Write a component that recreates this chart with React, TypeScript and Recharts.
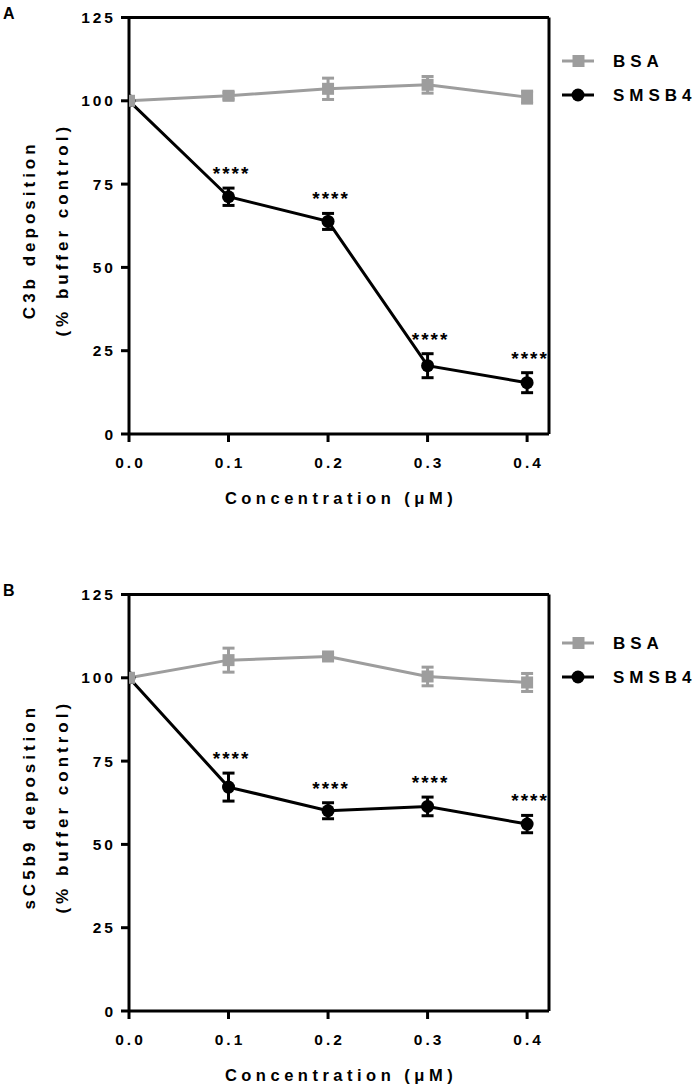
import React from 'react';
import { LineChart, Line, XAxis, YAxis, ErrorBar, ReferenceLine, ReferenceDot, Legend } from 'recharts';

// concentrations (µM) and axis ticks
const conc = [0, 0.1, 0.2, 0.3, 0.4];
const xTicks = [0, 0.1, 0.2, 0.3, 0.4];
const yTicks = [0, 25, 50, 75, 100, 125];

// panel A: C3b deposition
const bsaA = [100, 101.5, 103.6, 104.8, 101.1];
const bsaErrA = [0, 1, 3.2, 2.5, 1.8];
const smsA = [100, 71.2, 63.8, 20.5, 15.4];
const smsErrA = [0, 2.6, 2.4, 3.6, 3];

// panel B: sC5b9 deposition
const bsaB = [100, 105.3, 106.4, 100.4, 98.6];
const bsaErrB = [0, 3.6, 0.8, 2.8, 2.7];
const smsB = [100, 67.2, 60.1, 61.4, 56.1];
const smsErrB = [0, 4.2, 2.4, 2.8, 2.6];

const stars = ['', '****', '****', '****', '****'];
const seriesNames = ['BSA', 'SMSB4'];

const FONT = '"Liberation Sans", Arial, Helvetica, sans-serif';
const GRAY = '#9d9d9d';
const X_MAX = 0.422;

const XTick = (props: any) => {
  const { x, y, payload } = props;
  return (
    <text x={x + 1.5} y={y} dy="0.71em" textAnchor="middle" fontFamily={FONT} fontWeight="bold"
      fontSize={15.5} fill="#000" style={{ letterSpacing: '3px' }}>
      {Number(payload.value).toFixed(1)}
    </text>
  );
};

const YTick = (props: any) => {
  const { x, y, payload } = props;
  return (
    <text x={x} y={y} dy="0.36em" textAnchor="end" fontFamily={FONT} fontWeight="bold"
      fontSize={15.5} fill="#000" style={{ letterSpacing: '3px' }}>
      {payload.value}
    </text>
  );
};

const squareDot = (props: any) => {
  const { cx, cy, index } = props;
  return <rect key={`sq${index}`} x={cx - 6} y={cy - 6} width={12} height={12} fill={GRAY} />;
};

const circleDot = (props: any) => {
  const { cx, cy, index } = props;
  return <circle key={`ci${index}`} cx={cx} cy={cy} r={6.5} fill="#000" />;
};

const LegendBox = () => (
  <svg width={145} height={70}>
    {seriesNames.map((n, i) => (
      <g key={n} transform={`translate(0, ${15 + i * 34})`}>
        <line x1={7} x2={39} y1={0} y2={0} stroke={i === 0 ? GRAY : '#000'} strokeWidth={3} />
        {i === 0
          ? <rect x={17.5} y={-6} width={12} height={12} fill={GRAY} />
          : <circle cx={23} cy={0} r={6.5} fill="#000" />}
        <text x={58} y={0} dy="0.36em" fontFamily={FONT} fontWeight="bold" fontSize={17}
          fill="#000" style={{ letterSpacing: '5px' }}>{n}</text>
      </g>
    ))}
  </svg>
);

interface PanelProps {
  letter: string;
  title: string[];
  bsa: number[];
  bsaErr: number[];
  sms: number[];
  smsErr: number[];
  top: number;
  legendTop: number;
}

const Panel: React.FC<PanelProps> = ({ letter, title, bsa, bsaErr, sms, smsErr, top, legendTop }) => {
  const rows = conc.map((x, i) => ({ x, bsa: bsa[i], bsaErr: bsaErr[i], sms: sms[i], smsErr: smsErr[i] }));
  return (
    <div style={{ position: 'absolute', left: 0, top, width: 700, height: 514 }}>
      <svg width={24} height={24} style={{ position: 'absolute', left: 0, top: 0 }}>
        <text x={3} y={19} fontFamily={FONT} fontWeight="bold" fontSize={16} fill="#000">{letter}</text>
      </svg>
      <LineChart width={700} height={514} data={rows} margin={{ top: 17.5, right: 151, bottom: 0, left: 0 }}>
        <XAxis dataKey="x" type="number" domain={[0, X_MAX]} ticks={xTicks} allowDataOverflow
          height={80} tickSize={8} tickMargin={15} tick={<XTick />}
          axisLine={{ stroke: '#000', strokeWidth: 3 }} tickLine={{ stroke: '#000', strokeWidth: 3 }}
          label={{
            content: (p: any) => {
              const vb = p.viewBox || { x: 129, y: 434.5, width: 420 };
              return (
                <text x={vb.x + vb.width / 2 + 2} y={vb.y + 70} textAnchor="middle" fontFamily={FONT}
                  fontWeight="bold" fontSize={16.5} fill="#000" style={{ letterSpacing: '4.5px' }}>
                  Concentration (μM)
                </text>
              );
            },
          }} />
        <YAxis type="number" domain={[0, 125]} ticks={yTicks} width={129} tickSize={8} tickMargin={5}
          tick={<YTick />} axisLine={{ stroke: '#000', strokeWidth: 3 }} tickLine={{ stroke: '#000', strokeWidth: 3 }}
          label={{
            content: (p: any) => {
              const vb = p.viewBox || { x: 0, y: 17.5, height: 417 };
              const cy = vb.y + vb.height / 2;
              return (
                <g>
                  {title.map((t, i) => (
                    <text key={t} transform={`translate(${29 + i * 33}, ${cy + 4}) rotate(-90)`} dy="0.36em"
                      textAnchor="middle" fontFamily={FONT} fontWeight="bold" fontSize={17} fill="#000"
                      style={{ letterSpacing: '4px' }}>{t}</text>
                  ))}
                </g>
              );
            },
          }} />
        <ReferenceLine y={125} stroke="#000" strokeWidth={3} />
        <ReferenceLine x={X_MAX} stroke="#000" strokeWidth={3} />
        <Line dataKey="sms" type="linear" stroke="#000" strokeWidth={3} dot={circleDot} activeDot={false}
          isAnimationActive={false}>
          <ErrorBar dataKey="smsErr" direction="y" width={6} strokeWidth={3} stroke="#000" />
        </Line>
        <Line dataKey="bsa" type="linear" stroke={GRAY} strokeWidth={3} dot={squareDot} activeDot={false}
          isAnimationActive={false}>
          <ErrorBar dataKey="bsaErr" direction="y" width={6} strokeWidth={3} stroke={GRAY} />
        </Line>
        {conc.map((x, i) =>
          stars[i] ? (
            <ReferenceDot key={`st${i}`} x={x} y={sms[i] + smsErr[i]} r={0} fill="none" stroke="none"
              label={{
                content: (p: any) => {
                  const vb = p.viewBox || { x: 0, y: 0, width: 0 };
                  return (
                    <text x={vb.x + vb.width / 2 + 3} y={vb.y - 8} textAnchor="middle" fontFamily={FONT}
                      fontWeight="bold" fontSize={19} fill="#000" style={{ letterSpacing: '2px' }}>
                      {stars[i]}
                    </text>
                  );
                },
              }} />
          ) : null
        )}
        <Legend content={LegendBox} layout="horizontal" align="center" verticalAlign="middle"
          wrapperStyle={{ left: 555, top: legendTop, width: 145 }} />
      </LineChart>
    </div>
  );
};

export default function App() {
  return (
    <div style={{ position: 'absolute', left: 0, top: 0, width: 700, height: 1091, background: '#fff' }}>
      <Panel letter="A" title={['C3b deposition', '(% buffer control)']} bsa={bsaA} bsaErr={bsaErrA}
        sms={smsA} smsErr={smsErrA} top={0} legendTop={46} />
      <Panel letter="B" title={['sC5b9 deposition', '(% buffer control)']} bsa={bsaB} bsaErr={bsaErrB}
        sms={smsB} smsErr={smsErrB} top={577} legendTop={51} />
    </div>
  );
}
